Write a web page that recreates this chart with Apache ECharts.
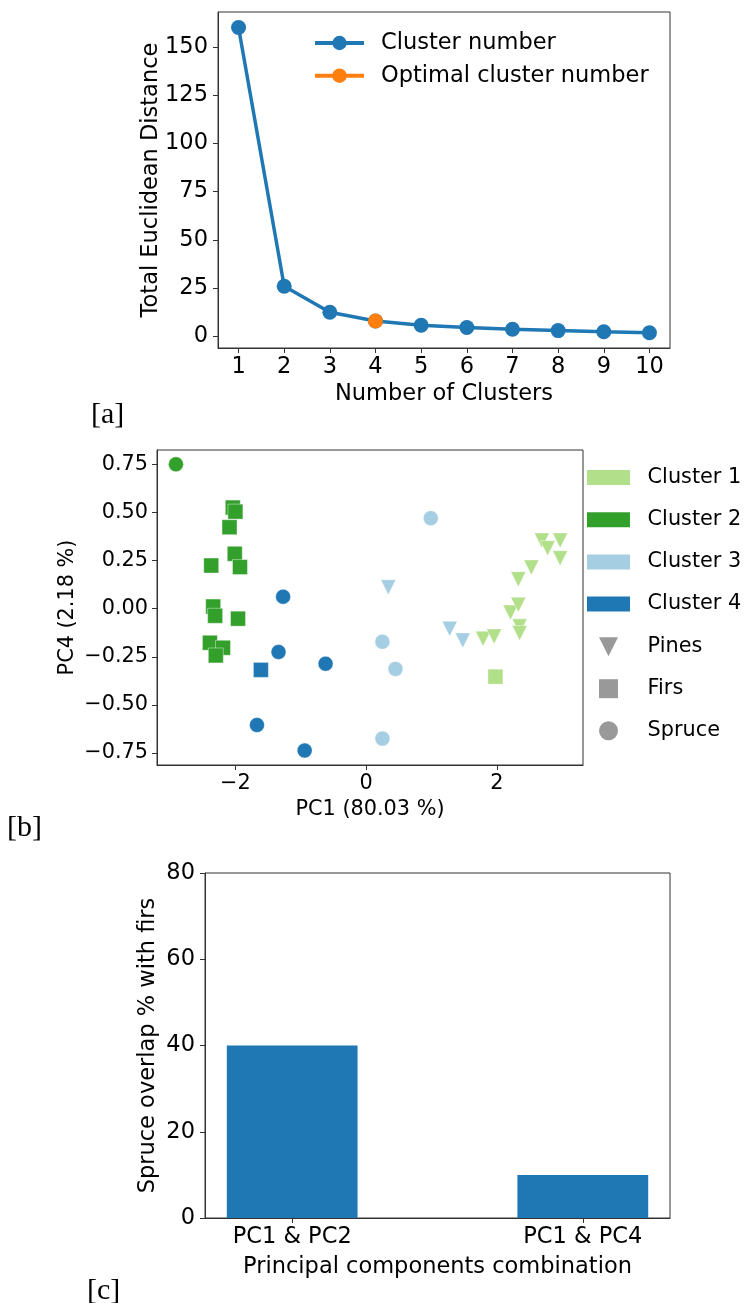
<!DOCTYPE html>
<html>
<head>
<meta charset="utf-8">
<script src="https://cdn.jsdelivr.net/npm/echarts@6/dist/echarts.min.js"></script>
<style>
  html, body { margin: 0; padding: 0; background: #fff; }
  #chart { width: 744px; height: 1303px; }
</style>
</head>
<body>
<div id="chart"></div>
<script>
// ---------- (a) elbow curve ----------
const clusterCounts = [1, 2, 3, 4, 5, 6, 7, 8, 9, 10];
const totalDistance = [160, 26, 12.5, 8, 5.8, 4.6, 3.7, 3.0, 2.4, 1.9];
const optimalCount = 4;
const distanceTicks = [0, 25, 50, 75, 100, 125, 150];

// ---------- (b) PCA scores: [PC1, PC4, species] ----------
const cluster1 = [
  [1.98, -0.353, 'Firs'],
  [1.79, -0.156, 'Pines'], [1.96, -0.144, 'Pines'], [2.21, -0.02, 'Pines'],
  [2.33, 0.02, 'Pines'], [2.35, -0.092, 'Pines'], [2.35, -0.127, 'Pines'],
  [2.33, 0.153, 'Pines'], [2.53, 0.214, 'Pines'], [2.69, 0.354, 'Pines'],
  [2.78, 0.314, 'Pines'], [2.97, 0.354, 'Pines'], [2.97, 0.262, 'Pines']
];
const cluster2 = [
  [-2.91, 0.75, 'Spruce'],
  [-2.04, 0.525, 'Firs'], [-2.00, 0.504, 'Firs'], [-2.09, 0.423, 'Firs'],
  [-2.01, 0.285, 'Firs'], [-1.93, 0.216, 'Firs'], [-2.37, 0.224, 'Firs'],
  [-2.34, 0.011, 'Firs'], [-2.31, -0.037, 'Firs'], [-1.96, -0.052, 'Firs'],
  [-2.39, -0.177, 'Firs'], [-2.19, -0.203, 'Firs'], [-2.30, -0.243, 'Firs']
];
const cluster3 = [
  [0.99, 0.47, 'Spruce'], [0.25, -0.172, 'Spruce'], [0.45, -0.313, 'Spruce'],
  [0.25, -0.675, 'Spruce'],
  [0.34, 0.111, 'Pines'], [1.28, -0.105, 'Pines'], [1.48, -0.165, 'Pines']
];
const cluster4 = [
  [-1.27, 0.062, 'Spruce'], [-1.34, -0.225, 'Spruce'], [-0.62, -0.286, 'Spruce'],
  [-1.67, -0.604, 'Spruce'], [-0.94, -0.737, 'Spruce'],
  [-1.61, -0.318, 'Firs']
];
const clusterNames = ['Cluster 1', 'Cluster 2', 'Cluster 3', 'Cluster 4'];
const speciesNames = ['Pines', 'Firs', 'Spruce'];
const pc1Ticks = [-2, 0, 2];
const pc4Ticks = [-0.75, -0.5, -0.25, 0, 0.25, 0.5, 0.75];

// ---------- (c) overlap ----------
const combinations = ['PC1 & PC2', 'PC1 & PC4'];
const overlapPercent = [40, 10];

// ---------- styling ----------
const FONT = 'DejaVu Sans';
const AXIS_COLOR = '#333';
const clusterColors = ['#b2df8a', '#33a02c', '#a6cee3', '#1f78b4'];
const SPECIES_GRAY = '#808080';
const speciesSymbols = {
  Pines: 'path://M0,0L2,0L1,2Z',   // downward triangle
  Firs: 'rect',
  Spruce: 'circle'
};
// legend icons keep their aspect ratio, so the square is a path too
const speciesIcons = {
  Pines: 'path://M0,0L2,0L1,2Z',
  Firs: 'path://M0,0L2,0L2,2L0,2Z',
  Spruce: 'circle'
};

const minus = s => String(s).replace('-', '\u2212');

function frameAxis(gridIndex, fontSize, extra) {
  return Object.assign({
    gridIndex: gridIndex,
    axisLine: { show: true, onZero: false, lineStyle: { color: AXIS_COLOR, width: 1 } },
    axisTick: { show: true, inside: false, length: 5, lineStyle: { color: AXIS_COLOR, width: 1 } },
    splitLine: { show: false },
    axisLabel: { color: '#000', fontFamily: FONT, fontSize: fontSize, margin: 9 },
    nameLocation: 'middle',
    nameMoveOverlap: false,
    nameTextStyle: { color: '#000', fontFamily: FONT, fontSize: fontSize }
  }, extra);
}

const gridFrame = { show: true, borderColor: AXIS_COLOR, borderWidth: 1, backgroundColor: 'transparent', containLabel: false, outerBoundsMode: 'none' };

const clusterSets = [cluster1, cluster2, cluster3, cluster4];

const scatterSeries = clusterSets.map((pts, i) => ({
  type: 'scatter',
  name: clusterNames[i],
  xAxisIndex: 1,
  yAxisIndex: 1,
  symbolSize: 15,
  itemStyle: { color: clusterColors[i], borderColor: 'rgba(255,255,255,0.7)', borderWidth: 0.6, opacity: 1 },
  data: pts.map(p => ({ value: [p[0], p[1]], symbol: speciesSymbols[p[2]] }))
}));

// empty series that only carry the species legend entries
const speciesSeries = speciesNames.map(n => ({
  type: 'scatter',
  name: n,
  xAxisIndex: 1,
  yAxisIndex: 1,
  symbol: speciesSymbols[n],
  itemStyle: { color: SPECIES_GRAY },
  data: []
}));

const option = {
  animation: false,
  backgroundColor: '#fff',
  grid: [
    Object.assign({ left: 218, top: 12, width: 452, height: 336 }, gridFrame),
    Object.assign({ left: 157, top: 450, width: 426, height: 315 }, gridFrame),
    Object.assign({ left: 205, top: 873, width: 465, height: 345 }, gridFrame)
  ],
  xAxis: [
    frameAxis(0, 22.5, {
      type: 'value', min: 0.55, max: 10.45,
      name: 'Number of Clusters', nameGap: 35,
      axisTick: { show: true, length: 5, customValues: clusterCounts, lineStyle: { color: AXIS_COLOR } },
      axisLabel: { customValues: clusterCounts, color: '#000', fontFamily: FONT, fontSize: 22.5, margin: 8 }
    }),
    frameAxis(1, 20.8, {
      type: 'value', min: -3.2, max: 3.32,
      name: 'PC1 (80.03 %)', nameGap: 34,
      axisTick: { show: true, length: 5, customValues: pc1Ticks, lineStyle: { color: AXIS_COLOR } },
      axisLabel: { customValues: pc1Ticks, formatter: v => minus(v), color: '#000', fontFamily: FONT, fontSize: 20.8, margin: 8 }
    }),
    frameAxis(2, 22.5, {
      type: 'value', min: -0.3, max: 1.3,
      name: 'Principal components combination', nameGap: 38,
      axisTick: { show: true, length: 5, customValues: [0, 1], lineStyle: { color: AXIS_COLOR } },
      axisLabel: { customValues: [0, 1], formatter: v => combinations[Math.round(v)], color: '#000', fontFamily: FONT, fontSize: 22.5, margin: 8 }
    })
  ],
  yAxis: [
    frameAxis(0, 22.5, {
      type: 'value', min: -6, max: 168,
      name: 'Total Euclidean Distance', nameGap: 55,
      axisTick: { show: true, length: 5, customValues: distanceTicks, lineStyle: { color: AXIS_COLOR } },
      axisLabel: { customValues: distanceTicks, color: '#000', fontFamily: FONT, fontSize: 22.5, margin: 10 }
    }),
    frameAxis(1, 20.8, {
      type: 'value', min: -0.812, max: 0.824,
      name: 'PC4 (2.18 %)', nameGap: 79,
      axisTick: { show: true, length: 5, customValues: pc4Ticks, lineStyle: { color: AXIS_COLOR } },
      axisLabel: { customValues: pc4Ticks, formatter: v => minus(v.toFixed(2)), color: '#000', fontFamily: FONT, fontSize: 20.8, margin: 9 }
    }),
    frameAxis(2, 22.5, {
      type: 'value', min: 0, max: 80, interval: 20,
      name: 'Spruce overlap % with firs', nameGap: 45,
      axisLabel: { color: '#000', fontFamily: FONT, fontSize: 22.5, margin: 10 }
    })
  ],
  legend: [
    {
      data: ['Cluster number', 'Optimal cluster number'],
      orient: 'vertical', left: 313, top: 30, padding: 0,
      itemWidth: 49, itemHeight: 18, itemGap: 6.7, selectedMode: false,
      lineStyle: { width: 4 },
      textStyle: { color: '#000', fontFamily: FONT, fontSize: 22.5, lineHeight: 26, padding: [0, 0, 0, 12] }
    },
    {
      data: clusterNames.map((n, i) => ({ name: n, icon: 'rect', itemStyle: { color: clusterColors[i], borderWidth: 0 } })),
      orient: 'vertical', left: 587, top: 466.5, padding: 0,
      itemWidth: 43, itemHeight: 15, itemGap: 20.2, selectedMode: false,
      textStyle: { color: '#000', fontFamily: FONT, fontSize: 20.8, lineHeight: 22, padding: [0, 0, 0, 12.6] }
    },
    {
      // icons are centred in a 43px slot; the box starts at the icon edge, 12px in
      data: speciesNames.map(n => ({ name: n, icon: speciesIcons[n], itemStyle: { color: SPECIES_GRAY, borderWidth: 0 } })),
      orient: 'vertical', left: 599, top: 635.7, padding: 0,
      itemWidth: 43, itemHeight: 19, itemGap: 20, selectedMode: false, symbolKeepAspect: true,
      textStyle: { color: '#000', fontFamily: FONT, fontSize: 20.8, lineHeight: 22, padding: [0, 0, 0, 12.6] }
    }
  ],
  graphic: [
    { type: 'text', x: 91, y: 415, style: { text: '[a]', fontFamily: 'Liberation Serif', fontSize: 30, fill: '#000', verticalAlign: 'middle' } },
    { type: 'text', x: 7, y: 828, style: { text: '[b]', fontFamily: 'Liberation Serif', fontSize: 30, fill: '#000', verticalAlign: 'middle' } },
    { type: 'text', x: 87, y: 1291, style: { text: '[c]', fontFamily: 'Liberation Serif', fontSize: 30, fill: '#000', verticalAlign: 'middle' } }
  ],
  series: [
    {
      type: 'line',
      name: 'Cluster number',
      xAxisIndex: 0, yAxisIndex: 0,
      symbol: 'circle', symbolSize: 15, showAllSymbol: true,
      lineStyle: { color: '#1f77b4', width: 3.5 },
      itemStyle: { color: '#1f77b4' },
      data: clusterCounts.map((c, i) => [c, totalDistance[i]])
    },
    {
      type: 'line',
      name: 'Optimal cluster number',
      xAxisIndex: 0, yAxisIndex: 0, z: 3,
      symbol: 'circle', symbolSize: 15,
      lineStyle: { color: '#ff7f0e', width: 3.5 },
      itemStyle: { color: '#ff7f0e' },
      data: [[optimalCount, totalDistance[clusterCounts.indexOf(optimalCount)]]]
    },
    ...scatterSeries,
    ...speciesSeries,
    {
      type: 'bar',
      name: 'Spruce overlap',
      xAxisIndex: 2, yAxisIndex: 2,
      barWidth: '45%',
      itemStyle: { color: '#1f77b4' },
      data: overlapPercent.map((v, i) => [i, v])
    }
  ]
};

const chart = echarts.init(document.getElementById('chart'), null, { renderer: 'canvas' });
chart.setOption(option);
</script>
</body>
</html>
